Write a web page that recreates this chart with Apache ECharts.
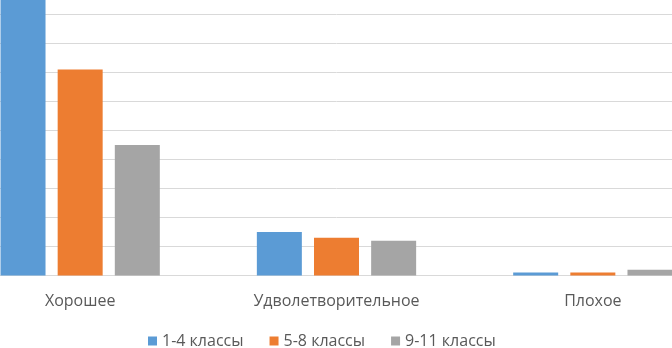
<!DOCTYPE html>
<html><head><meta charset="utf-8">
<script src="https://cdn.jsdelivr.net/npm/echarts@6/dist/echarts.min.js"></script>
<style>html,body{margin:0;padding:0;background:#fff;overflow:hidden;width:672px;height:348px;position:relative}
#c{position:absolute;left:-48px;top:0;width:769px;height:348px}</style>
</head><body><div id="c"></div>
<script>
var categories = ['Хорошее', 'Удволетворительное', 'Плохое'];
var seriesNames = ['1-4 классы', '5-8 классы', '9-11 классы'];
var grade1to4 = [110, 15, 1];
var grade5to8 = [71, 13, 1];
var grade9to11 = [45, 12, 2];
var colors = ['#5B9BD5', '#ED7D31', '#A5A5A5'];
var values = [grade1to4, grade5to8, grade9to11];
var font = 'Open Sans';
var chart = echarts.init(document.getElementById('c'));
chart.setOption({
  animation: false,
  color: colors,
  grid: {left: 0, right: 0, top: 14.5, bottom: 72.5, containLabel: false},
  legend: {
    top: 328, left: 191, itemWidth: 9, itemHeight: 9, itemGap: 26,
    icon: 'rect',
    textStyle: {fontFamily: font, fontSize: 16, color: '#595959'},
    data: seriesNames
  },
  xAxis: {
    type: 'category', data: categories,
    axisLine: {lineStyle: {color: '#D9D9D9'}}, axisTick: {show: false},
    axisLabel: {fontFamily: font, fontSize: 16, color: '#595959', margin: 18}
  },
  yAxis: {
    type: 'value', min: 0, max: 90, interval: 10,
    axisLabel: {show: false}, axisLine: {show: false}, axisTick: {show: false},
    splitLine: {lineStyle: {color: '#D9D9D9'}}
  },
  series: seriesNames.map(function (n, i) {
    return {name: n, type: 'bar', data: values[i], barWidth: 45, barGap: '27%', clip: false};
  })
});
</script></body></html>
